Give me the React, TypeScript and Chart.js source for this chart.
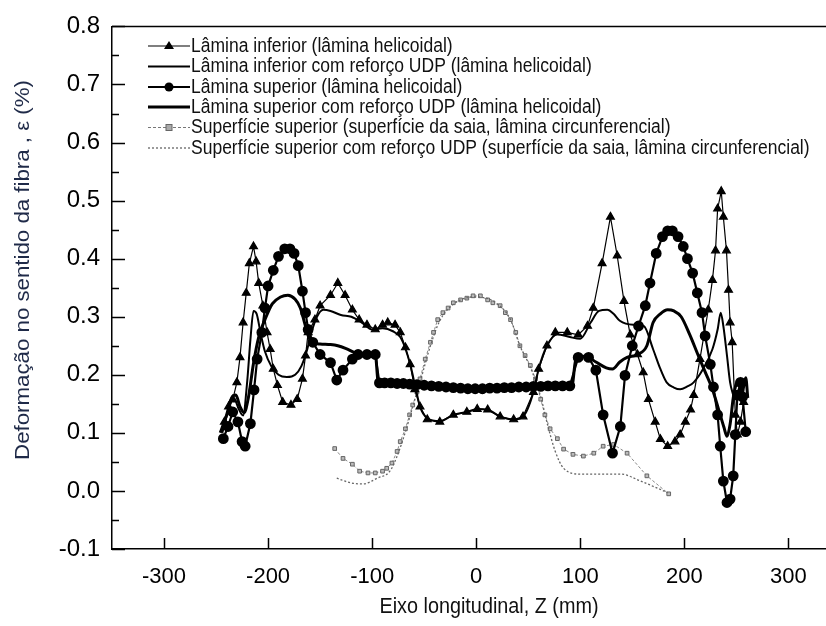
import React, { useEffect, useRef } from "react";
import { Chart, registerables } from "chart.js";

Chart.register(...registerables);

// ---------- data ----------
const xTickValues = [-300, -200, -100, 0, 100, 200, 300];
const yTickValues = [-0.1, 0, 0.1, 0.2, 0.3, 0.4, 0.5, 0.6, 0.7, 0.8];
const yMinorTickValues = [-0.05, 0.05, 0.15, 0.25, 0.35, 0.45, 0.55, 0.65, 0.75];

const seriesLabels = [
  "Lâmina inferior (lâmina helicoidal)",
  "Lâmina inferior com reforço UDP (lâmina helicoidal)",
  "Lâmina superior (lâmina helicoidal)",
  "Lâmina superior com reforço UDP (lâmina helicoidal)",
  "Superfície superior (superfície da saia, lâmina circunferencial)",
  "Superfície superior com reforço UDP (superfície da saia, lâmina circunferencial)",
];

const xTitle = "Eixo longitudinal, Z (mm)";
const yTitle = "Deformação no sentido da fibra , ε (%)";

// Lâmina inferior (triangles)
const infZ = [-242, -238, -234, -230, -227, -224, -221, -218, -214, -211.5, -209, -205, -201, -198, -195, -191, -186, -178, -172, -167, -164, -161.5, -155, -150, -140, -133, -126, -119, -112.5, -105, -97, -90, -85, -78, -73, -68, -63.5, -59, -54, -47, -35, -22, -9, 1, 11, 23, 36, 45, 55, 60, 68, 76, 87.5, 98, 107, 112.5, 121, 129, 135.5, 142, 148, 155, 160.5, 165.5, 172, 177, 184, 191, 196, 201, 206, 209, 215, 223, 227, 230, 232, 235.5, 237.5, 240.5, 242.5, 244, 246, 249, 251, 254, 257];
const infE = [0.119, 0.145, 0.157, 0.187, 0.230, 0.290, 0.341, 0.392, 0.421, 0.395, 0.358, 0.319, 0.273, 0.244, 0.210, 0.182, 0.153, 0.148, 0.158, 0.193, 0.233, 0.273, 0.295, 0.319, 0.337, 0.358, 0.337, 0.312, 0.295, 0.286, 0.278, 0.286, 0.290, 0.286, 0.273, 0.247, 0.218, 0.175, 0.145, 0.123, 0.119, 0.131, 0.136, 0.141, 0.140, 0.128, 0.123, 0.128, 0.170, 0.210, 0.250, 0.273, 0.273, 0.269, 0.284, 0.315, 0.392, 0.472, 0.405, 0.327, 0.269, 0.235, 0.204, 0.158, 0.119, 0.089, 0.077, 0.085, 0.097, 0.119, 0.140, 0.165, 0.227, 0.312, 0.363, 0.414, 0.486, 0.516, 0.472, 0.414, 0.346, 0.290, 0.256, 0.131, 0.097, 0.119, 0.153];

// Lâmina inferior com reforço UDP (thin line)
const infUdpZ = [-244, -238, -233, -228, -224, -220, -217, -214, -211, -207, -203, -197, -190, -182, -174, -168, -163, -158, -153, -147, -140, -130, -120, -110, -100, -90, -80, -73, -68, -63, -58, -54, -47, -35, -22, -9, 1, 11, 23, 36, 45, 55, 60, 68, 78, 90, 100, 110, 118, 126, 132, 138, 151, 161, 170, 177, 183, 190, 196, 203, 209, 218, 227, 232, 235, 237.5, 241, 244, 247];
const infUdpE = [0.10, 0.14, 0.16, 0.14, 0.13, 0.19, 0.26, 0.31, 0.305, 0.27, 0.24, 0.215, 0.20, 0.196, 0.20, 0.215, 0.24, 0.275, 0.30, 0.312, 0.31, 0.303, 0.30, 0.29, 0.278, 0.28, 0.275, 0.265, 0.245, 0.215, 0.175, 0.145, 0.125, 0.12, 0.131, 0.136, 0.141, 0.14, 0.128, 0.123, 0.128, 0.17, 0.21, 0.25, 0.27, 0.265, 0.262, 0.29, 0.31, 0.312, 0.305, 0.293, 0.286, 0.284, 0.244, 0.21, 0.187, 0.178, 0.175, 0.18, 0.187, 0.21, 0.244, 0.278, 0.307, 0.284, 0.233, 0.187, 0.165];

// Lâmina superior (circles)
const supZ = [-243, -238.5, -234, -229, -225, -222, -217, -213.5, -210.5, -206, -203, -200, -195, -190, -184, -179, -175, -171, -167, -164, -161.5, -157, -150, -140, -134, -128, -119, -113.5, -105, -97, -93, -88, -82, -76, -70, -64, -57, -50, -43, -36, -29, -22, -15, -8, -1, 6, 13, 20, 27, 34, 41, 48, 55, 62, 69, 76, 83, 90, 98, 108, 115, 122, 131, 138.5, 143, 150, 156, 162.5, 167, 173, 179, 184, 188.5, 194, 199, 203, 208, 212.5, 217, 220, 225, 228, 232, 234.5, 237.5, 241, 244, 247, 249, 251, 254, 256, 259];
const supE = [0.090, 0.111, 0.136, 0.119, 0.085, 0.077, 0.116, 0.174, 0.227, 0.273, 0.315, 0.353, 0.380, 0.404, 0.417, 0.417, 0.409, 0.388, 0.344, 0.307, 0.278, 0.256, 0.235, 0.221, 0.191, 0.208, 0.227, 0.235, 0.235, 0.235, 0.186, 0.186, 0.186, 0.185, 0.185, 0.184, 0.183, 0.182, 0.181, 0.180, 0.179, 0.178, 0.177, 0.176, 0.176, 0.176, 0.177, 0.177, 0.178, 0.178, 0.179, 0.179, 0.180, 0.180, 0.181, 0.181, 0.181, 0.181, 0.230, 0.230, 0.208, 0.131, 0.065, 0.111, 0.199, 0.250, 0.284, 0.319, 0.358, 0.409, 0.438, 0.448, 0.448, 0.438, 0.421, 0.400, 0.375, 0.341, 0.307, 0.267, 0.218, 0.179, 0.131, 0.077, 0.017, -0.020, -0.014, 0.026, 0.097, 0.165, 0.187, 0.162, 0.102];

// Lâmina superior com reforço UDP (thick line)
const supUdpZ = [-246, -240, -235, -231, -227, -223, -219, -214, -209, -203, -196, -188, -181, -174, -169, -165, -161, -156, -150, -140, -133, -125, -115, -105, -97, -94, -85, -60, -30, 0, 30, 60, 92, 96, 105, 115, 125, 131, 138, 145, 155, 164, 170, 177, 184, 190, 197, 205, 213, 220, 227, 233, 238, 241, 244, 247, 250, 253, 255, 257, 259, 261];
const supUdpE = [0.10, 0.13, 0.16, 0.165, 0.145, 0.135, 0.16, 0.22, 0.265, 0.295, 0.322, 0.334, 0.337, 0.33, 0.315, 0.29, 0.265, 0.255, 0.253, 0.252, 0.25, 0.245, 0.237, 0.235, 0.235, 0.186, 0.186, 0.184, 0.18, 0.176, 0.178, 0.18, 0.181, 0.23, 0.232, 0.222, 0.212, 0.21, 0.222, 0.23, 0.235, 0.25, 0.29, 0.305, 0.312, 0.31, 0.30, 0.27, 0.235, 0.205, 0.175, 0.14, 0.11, 0.094, 0.115, 0.16, 0.185, 0.19, 0.16, 0.18, 0.195, 0.16];

// Superfície superior (grey markers)
const surfZ = [-136, -128, -119, -112, -104, -97, -90, -86, -81, -76, -73, -68, -64, -61, -57, -54, -49, -44, -41, -37, -32, -27, -22, -15, -9, -3, 4, 11, 16, 23, 28, 33, 38, 42, 47, 52, 57, 62, 66, 71, 78, 84, 93, 103, 113, 122, 132, 145, 164, 185];
const surfE = [0.073, 0.056, 0.046, 0.034, 0.031, 0.031, 0.034, 0.039, 0.048, 0.068, 0.085, 0.107, 0.131, 0.148, 0.170, 0.193, 0.227, 0.256, 0.273, 0.295, 0.307, 0.315, 0.324, 0.329, 0.332, 0.336, 0.336, 0.329, 0.324, 0.319, 0.307, 0.295, 0.273, 0.250, 0.233, 0.216, 0.193, 0.158, 0.131, 0.107, 0.090, 0.072, 0.063, 0.060, 0.065, 0.077, 0.080, 0.065, 0.026, -0.005];

// Superfície superior com reforço UDP (grey dashed)
const surfUdpZ = [-134, -121, -109, -95, -83, -76, -68, -61, -54, -44, -35, -20, 0, 18, 33, 42, 52, 62, 69, 76, 84, 100, 119, 139, 158, 184];
const surfUdpE = [0.022, 0.014, 0.012, 0.022, 0.034, 0.06, 0.102, 0.145, 0.187, 0.25, 0.293, 0.324, 0.334, 0.325, 0.295, 0.25, 0.213, 0.162, 0.111, 0.068, 0.039, 0.029, 0.029, 0.029, 0.017, -0.003];

const pts = (xs: number[], ys: number[]) => xs.map((x, i) => ({ x, y: ys[i] }));

// ---------- plugins ----------
const framePlugin = {
  id: "frameTicks",
  afterDatasetsDraw(chart: any) {
    const { ctx, chartArea, scales } = chart;
    const { left, right, top, bottom } = chartArea;
    const xs = scales.x;
    const ys = scales.y;
    ctx.save();
    ctx.strokeStyle = "#000";
    ctx.lineWidth = 1.5;
    ctx.beginPath();
    ctx.moveTo(left, top);
    ctx.lineTo(right + 20, top);
    ctx.stroke();
    ctx.beginPath();
    yTickValues.forEach((v) => {
      const py = Math.round(ys.getPixelForValue(v)) + 0.5;
      ctx.moveTo(left, py);
      ctx.lineTo(left + 13, py);
    });
    yMinorTickValues.forEach((v) => {
      const py = Math.round(ys.getPixelForValue(v)) + 0.5;
      ctx.moveTo(left, py);
      ctx.lineTo(left + 7, py);
    });
    xTickValues.forEach((v) => {
      const px = Math.round(xs.getPixelForValue(v)) + 0.5;
      ctx.moveTo(px, bottom);
      ctx.lineTo(px, bottom - 11);
    });
    ctx.stroke();

    // axis titles
    ctx.fillStyle = "#111";
    ctx.font = "22px 'Liberation Sans', Arial, sans-serif";
    ctx.textAlign = "center";
    ctx.textBaseline = "middle";
    ctx.save();
    ctx.translate(489, 607);
    ctx.scale(0.9, 1);
    ctx.fillText(xTitle, 0, 0);
    ctx.restore();
    ctx.save();
    ctx.translate(23, 270);
    ctx.rotate(-Math.PI / 2);
    ctx.fillStyle = "#1f2a48";
    ctx.font = "21px 'Liberation Sans', Arial, sans-serif";
    ctx.scale(1.06, 1);
    ctx.fillText(yTitle, 0, 0);
    ctx.restore();
    ctx.restore();
  },
  afterDraw(chart: any) {
    const { ctx } = chart;
    const rowY = [46, 66.5, 87, 107, 127.5, 148];
    const x1 = 148;
    const x2 = 190;
    ctx.save();
    rowY.forEach((y, i) => {
      ctx.save();
      ctx.setLineDash([]);
      ctx.strokeStyle = "#000";
      ctx.fillStyle = "#000";
      if (i === 0) ctx.lineWidth = 1.2;
      if (i === 1) ctx.lineWidth = 2;
      if (i === 2) ctx.lineWidth = 2.2;
      if (i === 3) ctx.lineWidth = 3;
      if (i === 4) {
        ctx.strokeStyle = "#777";
        ctx.lineWidth = 1;
        ctx.setLineDash([3, 2]);
      }
      if (i === 5) {
        ctx.strokeStyle = "#666";
        ctx.lineWidth = 1.3;
        ctx.setLineDash([2, 2]);
      }
      ctx.beginPath();
      ctx.moveTo(x1, y);
      ctx.lineTo(x2, y);
      ctx.stroke();
      ctx.setLineDash([]);
      const mx = (x1 + x2) / 2;
      if (i === 0) {
        ctx.beginPath();
        ctx.moveTo(mx, y - 5);
        ctx.lineTo(mx + 5, y + 3);
        ctx.lineTo(mx - 5, y + 3);
        ctx.closePath();
        ctx.fill();
      }
      if (i === 2) {
        ctx.beginPath();
        ctx.arc(mx, y, 4.5, 0, Math.PI * 2);
        ctx.fill();
      }
      if (i === 4) {
        ctx.fillStyle = "#aaa";
        ctx.strokeStyle = "#666";
        ctx.lineWidth = 1;
        ctx.fillRect(mx - 3, y - 3, 6, 6);
        ctx.strokeRect(mx - 3, y - 3, 6, 6);
      }
      ctx.restore();
      ctx.save();
      ctx.translate(x2 + 1, y);
      ctx.scale(0.875, 1);
      ctx.fillStyle = "#111";
      ctx.font = "20px 'Liberation Sans', Arial, sans-serif";
      ctx.textAlign = "left";
      ctx.textBaseline = "middle";
      ctx.fillText(seriesLabels[i], 0, 0);
      ctx.restore();
    });
    ctx.restore();
  },
};

export default function App() {
  const canvasRef = useRef<HTMLCanvasElement | null>(null);

  useEffect(() => {
    if (!canvasRef.current) return;
    const tickFont = { family: "'Liberation Sans', Arial, sans-serif", size: 24 };
    const chart = new Chart(canvasRef.current, {
      type: "line",
      data: {
        datasets: [
          {
            label: seriesLabels[4],
            data: pts(surfZ, surfE),
            borderColor: "#888",
            borderWidth: 1,
            borderDash: [3, 2],
            pointStyle: "rect",
            pointRadius: 2.6,
            pointBackgroundColor: "#bbb",
            pointBorderColor: "#666",
            pointBorderWidth: 1,
            tension: 0,
            order: 6,
          },
          {
            label: seriesLabels[5],
            data: pts(surfUdpZ, surfUdpE),
            borderColor: "#666",
            borderWidth: 1.3,
            borderDash: [2, 2],
            pointRadius: 0,
            cubicInterpolationMode: "monotone",
            order: 5,
          },
          {
            label: seriesLabels[3],
            data: pts(supUdpZ, supUdpE),
            borderColor: "#000",
            borderWidth: 3,
            pointRadius: 0,
            cubicInterpolationMode: "monotone",
            order: 4,
          },
          {
            label: seriesLabels[1],
            data: pts(infUdpZ, infUdpE),
            borderColor: "#000",
            borderWidth: 2,
            pointRadius: 0,
            cubicInterpolationMode: "monotone",
            order: 3,
          },
          {
            label: seriesLabels[2],
            data: pts(supZ, supE),
            borderColor: "#000",
            borderWidth: 2.2,
            pointStyle: "circle",
            pointRadius: 4.3,
            pointBackgroundColor: "#000",
            pointBorderColor: "#000",
            tension: 0,
            order: 2,
          },
          {
            label: seriesLabels[0],
            data: pts(infZ, infE),
            borderColor: "#000",
            borderWidth: 1.2,
            pointStyle: "triangle",
            pointRadius: 4.5,
            pointBackgroundColor: "#000",
            pointBorderColor: "#000",
            tension: 0,
            order: 1,
          },
        ],
      },
      options: {
        animation: false,
        responsive: false,
        maintainAspectRatio: false,
        parsing: false as any,
        layout: { padding: { top: 19, right: 10, left: 0, bottom: 0 } },
        plugins: {
          legend: { display: false },
          tooltip: { enabled: false },
          title: { display: false },
        },
        scales: {
          x: {
            type: "linear",
            min: -350,
            max: 340,
            afterFit: (s: any) => {
              s.height = 77;
            },
            afterBuildTicks: (s: any) => {
              s.ticks = xTickValues.map((v) => ({ value: v }));
            },
            grid: { display: false, drawTicks: false },
            border: { display: true, color: "#000", width: 1.5 },
            ticks: {
              font: { ...tickFont, size: 22 },
              color: "#000",
              padding: 15,
              autoSkip: false,
              maxRotation: 0,
              callback: (v: any) => String(v),
            },
          },
          y: {
            type: "linear",
            min: -0.1,
            max: 0.8,
            afterFit: (s: any) => {
              s.width = 112;
            },
            afterBuildTicks: (s: any) => {
              s.ticks = yTickValues.map((v) => ({ value: v }));
            },
            grid: { display: false, drawTicks: false },
            border: { display: true, color: "#000", width: 1.5 },
            ticks: {
              font: tickFont,
              color: "#000",
              padding: 12,
              autoSkip: false,
              callback: (v: any) => Number(v).toFixed(1),
            },
          },
        },
      },
      plugins: [framePlugin],
    } as any);
    return () => chart.destroy();
  }, []);

  return (
    <div
      style={{
        position: "absolute",
        left: 0,
        top: 0,
        width: 826,
        height: 626,
        overflow: "hidden",
        background: "#fff",
      }}
    >
      <canvas ref={canvasRef} width={840} height={626} style={{ display: "block" }} />
    </div>
  );
}
